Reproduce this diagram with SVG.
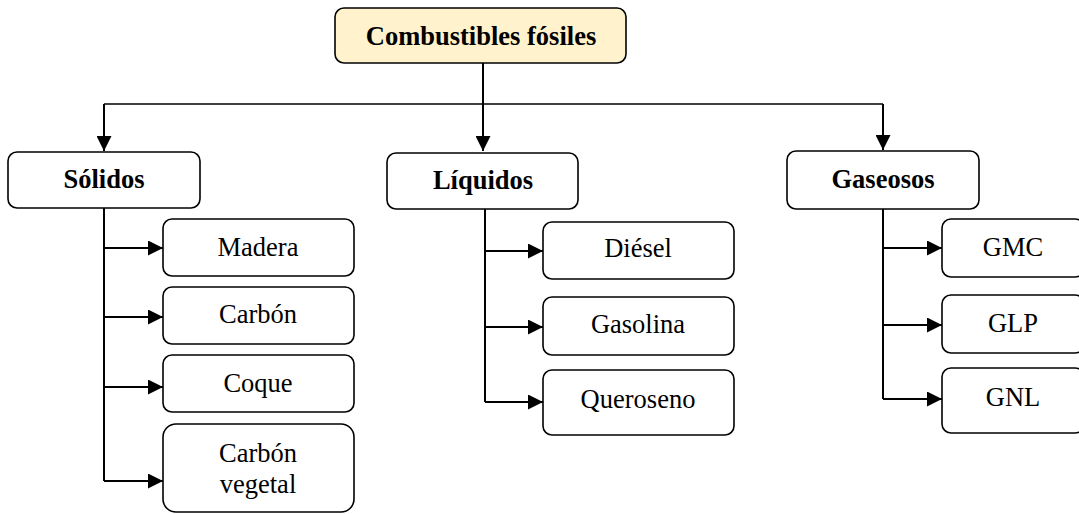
<svg xmlns="http://www.w3.org/2000/svg" width="1079" height="514" viewBox="0 0 1079 514">
<style>
.box{fill:#fff;stroke:#000;stroke-width:1.6}
.root{fill:#FFF2CC;stroke:#000;stroke-width:1.6}
.t{font-family:"Liberation Serif","Times New Roman",serif;font-size:26.5px;fill:#000;text-anchor:middle}
.b{font-weight:bold}
.c{fill:none;stroke:#000;stroke-width:2}
</style>
<defs>
<marker id="ah" markerUnits="userSpaceOnUse" markerWidth="15" markerHeight="15" viewBox="0 0 15 15" refX="15" refY="7.5" orient="auto">
<path d="M0,0 L15,7.5 L0,15 z" fill="#000"/>
</marker>
</defs>
<g id="connectors">
<path class="c" d="M483,63 V151" marker-end="url(#ah)"/>
<path class="c" d="M104,104 H883" style="stroke-width:1.6"/>
<path class="c" d="M104,104 V151" marker-end="url(#ah)"/>
<path class="c" d="M883,104 V150" marker-end="url(#ah)"/>
<path class="c" d="M104,208 V481"/>
<path class="c" d="M104,248 H163" marker-end="url(#ah)"/>
<path class="c" d="M104,317 H163" marker-end="url(#ah)"/>
<path class="c" d="M104,387 H163" marker-end="url(#ah)"/>
<path class="c" d="M104,481 H163" marker-end="url(#ah)"/>
<path class="c" d="M485,209 V402"/>
<path class="c" d="M485,251 H543" marker-end="url(#ah)"/>
<path class="c" d="M485,327 H543" marker-end="url(#ah)"/>
<path class="c" d="M485,402 H543" marker-end="url(#ah)"/>
<path class="c" d="M883,209 V399"/>
<path class="c" d="M883,248 H942" marker-end="url(#ah)"/>
<path class="c" d="M883,325 H942" marker-end="url(#ah)"/>
<path class="c" d="M883,399 H942" marker-end="url(#ah)"/>
</g>
<g id="n-root"><rect class="root" x="335" y="8" width="291" height="55" rx="9"/><text class="t b" x="481" y="45">Combustibles fósiles</text></g>
<g id="n-solidos"><rect class="box" x="8" y="152" width="192" height="56" rx="9"/><text class="t b" x="104" y="188">Sólidos</text></g>
<g id="n-liquidos"><rect class="box" x="387" y="153" width="191" height="56" rx="9"/><text class="t b" x="483" y="189">Líquidos</text></g>
<g id="n-gaseosos"><rect class="box" x="787" y="151" width="192" height="58" rx="9"/><text class="t b" x="883" y="188">Gaseosos</text></g>
<g id="n-madera"><rect class="box" x="163" y="219" width="191" height="57" rx="9"/><text class="t" x="258" y="256">Madera</text></g>
<g id="n-carbon"><rect class="box" x="163" y="287" width="191" height="57" rx="9"/><text class="t" x="258" y="323">Carbón</text></g>
<g id="n-coque"><rect class="box" x="163" y="355" width="191" height="57" rx="9"/><text class="t" x="258" y="392">Coque</text></g>
<g id="n-carbonveg"><rect class="box" x="163" y="424" width="191" height="88" rx="13"/><text class="t" x="258" y="462">Carbón</text><text class="t" x="258" y="493">vegetal</text></g>
<g id="n-diesel"><rect class="box" x="543" y="222" width="191" height="57" rx="9"/><text class="t" x="638" y="257">Diésel</text></g>
<g id="n-gasolina"><rect class="box" x="543" y="297" width="191" height="58" rx="9"/><text class="t" x="638" y="333">Gasolina</text></g>
<g id="n-queroseno"><rect class="box" x="543" y="370" width="191" height="65" rx="9"/><text class="t" x="638" y="408">Queroseno</text></g>
<g id="n-gmc"><rect class="box" x="942" y="219" width="142" height="58" rx="9"/><text class="t" x="1013" y="256">GMC</text></g>
<g id="n-glp"><rect class="box" x="942" y="295" width="142" height="58" rx="9"/><text class="t" x="1013" y="332">GLP</text></g>
<g id="n-gnl"><rect class="box" x="942" y="368" width="142" height="65" rx="9"/><text class="t" x="1013" y="406">GNL</text></g>
</svg>
